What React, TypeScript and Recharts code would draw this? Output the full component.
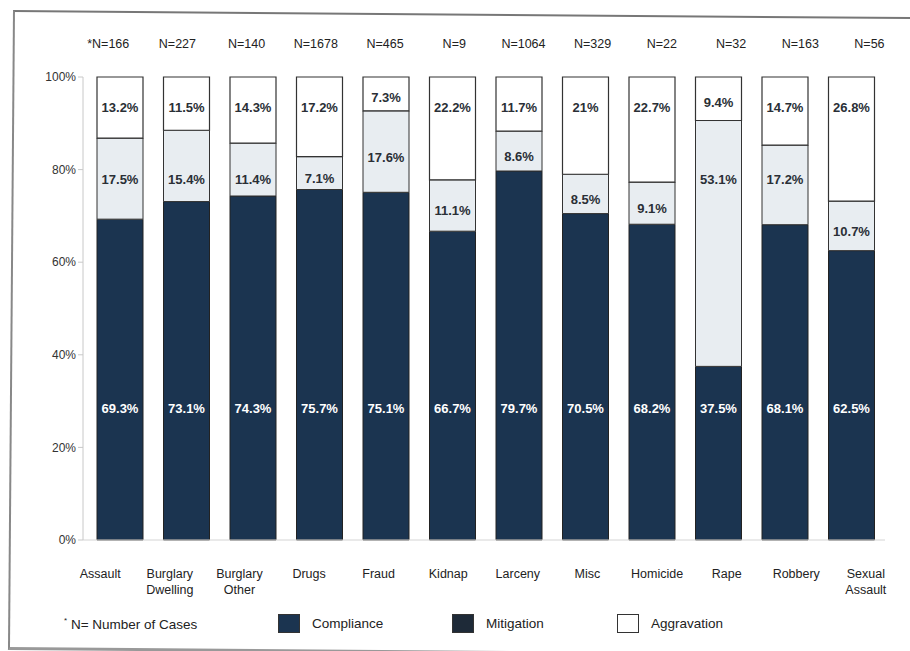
import { Bar, BarChart, LabelList, XAxis, YAxis } from 'recharts';

const categories = [
  'Assault',
  'Burglary\nDwelling',
  'Burglary\nOther',
  'Drugs',
  'Fraud',
  'Kidnap',
  'Larceny',
  'Misc',
  'Homicide',
  'Rape',
  'Robbery',
  'Sexual\nAssault',
];
const caseCounts = ['*N=166', 'N=227', 'N=140', 'N=1678', 'N=465', 'N=9', 'N=1064', 'N=329', 'N=22', 'N=32', 'N=163', 'N=56'];
const compliance = [69.3, 73.1, 74.3, 75.7, 75.1, 66.7, 79.7, 70.5, 68.2, 37.5, 68.1, 62.5];
const mitigation = [17.5, 15.4, 11.4, 7.1, 17.6, 11.1, 8.6, 8.5, 9.1, 53.1, 17.2, 10.7];
const aggravation = [13.2, 11.5, 14.3, 17.2, 7.3, 22.2, 11.7, 21, 22.7, 9.4, 14.7, 26.8];
const yTicks = [0, 20, 40, 60, 80, 100];

const data = categories.map((category, i) => ({
  category,
  n: caseCounts[i],
  compliance: compliance[i],
  mitigation: mitigation[i],
  aggravation: aggravation[i],
}));

const NAVY = '#1b3450';
const FONT = '"Liberation Sans", Arial, sans-serif';

const pct = (v: number) => `${v}%`;

// the scanned labels drift a little wider than the bars
const spread = (index: number, start: number, step: number) => start + step * index;

function CategoryTick({ x, y, payload, index }: any) {
  const lines = String(payload.value).split('\n');
  const tx = x + spread(index, -20, 3.1);
  return (
    <text x={tx} y={y} textAnchor="middle" fontFamily={FONT} fontSize={12.5} fill="#222">
      {lines.map((line, i) => (
        <tspan key={i} x={tx} dy={i === 0 ? 36 : 16}>
          {line}
        </tspan>
      ))}
    </text>
  );
}

function CountTick({ x, y, payload, index }: any) {
  return (
    <text
      x={x + spread(index, -12, 2.7)}
      y={y}
      dy={-27}
      textAnchor="middle"
      fontFamily={FONT}
      fontSize={12.5}
      fill="#222"
    >
      {payload.value}
    </text>
  );
}

// mitigation labels sit on the 78% line when it fits, else a bit below centre
function MitigationLabel({ x, y, width, height, value, index }: any) {
  const bottom = y + height;
  const perPct = height / value;
  const level = bottom - (78 - compliance[index]) * perPct;
  const fits = level >= y + 25 && level <= bottom - 15;
  const cy = fits ? level : y + height / 2 + 5;
  return (
    <text
      x={x + width / 2}
      y={cy}
      dy={5}
      textAnchor="middle"
      fontFamily={FONT}
      fontSize={13}
      fontWeight={600}
      fill="#2a2f36"
    >
      {pct(value)}
    </text>
  );
}

function AggravationLabel({ x, y, width, height, value }: any) {
  const cy = Math.min(y + 30, y + height / 2 + 3);
  return (
    <text
      x={x + width / 2}
      y={cy}
      dy={5}
      textAnchor="middle"
      fontFamily={FONT}
      fontSize={13}
      fontWeight={600}
      fill="#2a2f36"
    >
      {pct(value)}
    </text>
  );
}

const legendItems = [
  { name: 'Compliance', fill: NAVY, left: 278 },
  { name: 'Mitigation', fill: '#1e2a38', left: 452 },
  { name: 'Aggravation', fill: '#fff', left: 617 },
];

export default function App() {
  return (
    <div style={{ position: 'relative', width: 910, height: 651, background: '#fff', overflow: 'hidden' }}>
      <style>{'body{margin:0}'}</style>
      <div
        style={{
          position: 'absolute',
          left: 13,
          top: 10,
          width: 910,
          height: 635,
          borderTop: '2px solid #777',
          borderLeft: '2px solid #888',
          borderBottom: '3px solid #999',
          transform: 'rotate(0.45deg)',
          transformOrigin: '0 0',
        }}
      />
      <BarChart
        width={910}
        height={651}
        data={data}
        margin={{ top: 37, right: 25, bottom: 61, left: 0 }}
        barSize={46}
      >
        <XAxis
          dataKey="category"
          interval={0}
          height={50}
          tickSize={0}
          tick={<CategoryTick />}
          axisLine={{ stroke: '#d4d4d4' }}
          padding={{ left: 4, right: 0 }}
        />
        <XAxis
          xAxisId="top"
          orientation="top"
          dataKey="n"
          interval={0}
          height={40}
          tickSize={0}
          tick={<CountTick />}
          axisLine={false}
          padding={{ left: 4, right: 0 }}
        />
        <YAxis
          type="number"
          domain={[0, 100]}
          ticks={yTicks}
          width={83}
          tickFormatter={pct}
          tickSize={5}
          stroke="#c8c8c8"
          tick={{ fill: '#333', fontSize: 12, fontFamily: FONT }}
        />
        <Bar dataKey="compliance" stackId="a" fill={NAVY} stroke="#222" strokeWidth={1} isAnimationActive={false}>
          <LabelList
            dataKey="compliance"
            position="insideBottom"
            offset={127}
            formatter={pct}
            fill="#fff"
            fontSize={13}
            fontWeight={600}
            fontFamily={FONT}
          />
        </Bar>
        <Bar dataKey="mitigation" stackId="a" fill="#e8edf1" stroke="#333" strokeWidth={1} isAnimationActive={false}>
          <LabelList dataKey="mitigation" content={<MitigationLabel />} />
        </Bar>
        <Bar dataKey="aggravation" stackId="a" fill="#fff" stroke="#333" strokeWidth={1.2} isAnimationActive={false}>
          <LabelList dataKey="aggravation" content={<AggravationLabel />} />
        </Bar>
      </BarChart>
      <div
        style={{
          position: 'absolute',
          top: 614,
          left: 0,
          width: 910,
          height: 22,
          fontFamily: FONT,
          fontSize: 13.5,
          color: '#222',
        }}
      >
        <span style={{ position: 'absolute', left: 64, top: 2 }}>
          <sup style={{ fontSize: 8 }}>*</sup> N= Number of Cases
        </span>
        {legendItems.map((item) => (
          <span key={item.name} style={{ position: 'absolute', left: item.left, top: 0, display: 'flex', alignItems: 'center' }}>
            <span
              style={{
                display: 'inline-block',
                width: 20,
                height: 17,
                background: item.fill,
                border: '1px solid #333',
                marginRight: 12,
              }}
            />
            {item.name}
          </span>
        ))}
      </div>
    </div>
  );
}
